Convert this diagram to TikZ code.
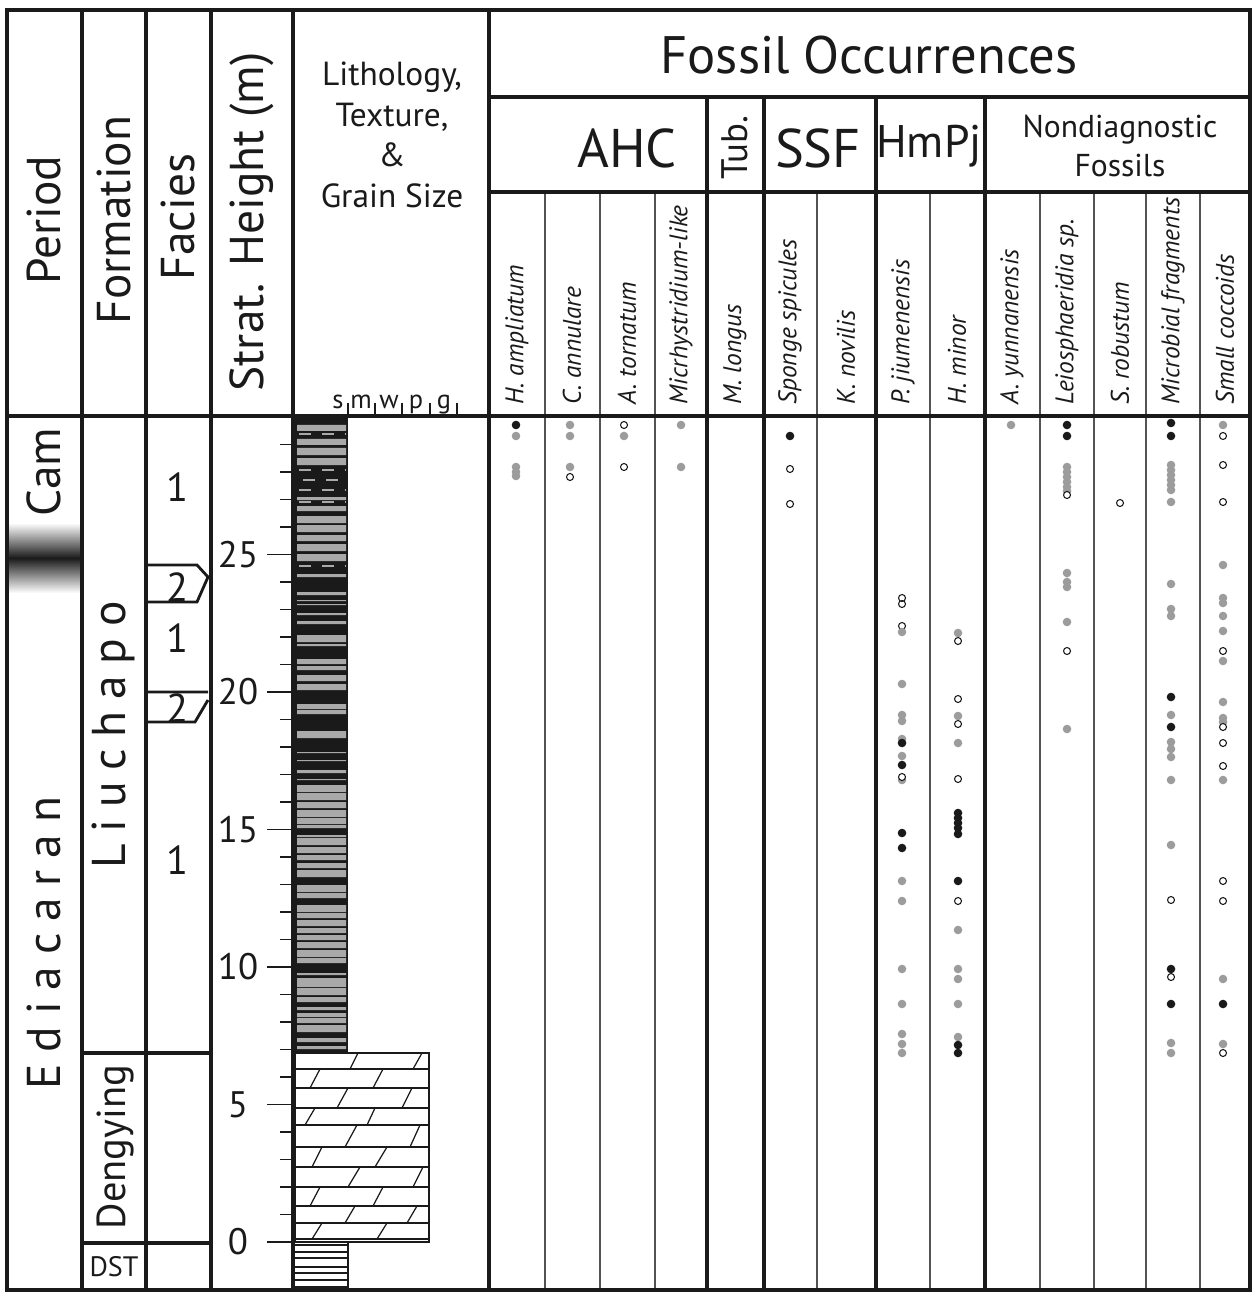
\documentclass[tikz,border=0pt]{standalone}
\usepackage{fontspec}
\setmainfont{PT Sans}
\newfontfamily\widefont[LetterSpace=25]{PT Sans}
\definecolor{inkblack}{HTML}{1A1A1A}
\definecolor{dotgrey}{HTML}{9C9C9C}
\definecolor{litgrey}{HTML}{A9A9A9}
\tikzset{ heavy/.style = { draw = inkblack
                         , line width = 2.8pt
                         },
          group/.style = { draw = inkblack
                         , line width = 2.2pt
                         },
          light/.style = { draw = inkblack!75
                         , line width = 1.1pt
                         },
          fine/.style  = { draw = inkblack
                         , line width = 0.7pt
                         },
          colhead/.style = { rotate = 90
                           , text = inkblack
                           , font = \fontsize{27}{32}\selectfont
                           },
          grouphead/.style = { text = inkblack
                             , font = \fontsize{31}{36}\selectfont
                             },
          species/.style = { rotate = 90
                           , anchor = west
                           , inner sep = 0pt
                           , text = inkblack
                           , font = \fontsize{14.5}{17}\selectfont\itshape
                           },
          ticklab/.style = { text = inkblack
                           , font = \fontsize{21}{24}\selectfont
                           },
          faciesno/.style = { text = inkblack
                            , font = \fontsize{23}{26}\selectfont
                            },
          grain/.style = { anchor = base
                         , inner sep = 0pt
                         , text = inkblack
                         , font = \fontsize{15}{17}\selectfont
                         },
          bdot/.style = { fill = inkblack },
          gdot/.style = { fill = dotgrey },
          odot/.style = { draw = inkblack
                        , fill = white
                        , line width = 0.6pt
                        }
        }

\begin{document}
\begin{tikzpicture}[x=0.02cm, y=-0.02cm]
    \useasboundingbox (0,0) rectangle (1254,1293);

    % period boundary shading
    \shade[top color=white, bottom color=inkblack] (9,523) rectangle (80,558);
    \shade[top color=inkblack, bottom color=white] (9,558) rectangle (80,593);

    % lithology: laminated interval
    \fill[inkblack] (293,416) rectangle (348,1052);
    \fill[litgrey] (297,425) rectangle (346,431) (297,439) rectangle (346,445)
        (297,448) rectangle (346,455) (297,458) rectangle (346,465)
        (297,497) rectangle (346,500) (297,506) rectangle (346,511)
        (297,516) rectangle (346,523) (297,525) rectangle (346,532)
        (297,535) rectangle (346,541) (297,544) rectangle (346,551)
        (297,554) rectangle (346,561) (297,574) rectangle (346,577)
        (297,592) rectangle (346,595) (297,600) rectangle (346,601)
        (297,604) rectangle (346,605) (297,613) rectangle (346,615)
        (297,621) rectangle (346,624) (297,635) rectangle (346,642)
        (297,644) rectangle (346,646) (297,659) rectangle (346,664)
        (297,666) rectangle (346,670) (297,675) rectangle (346,681)
        (297,684) rectangle (346,690) (297,704) rectangle (346,709)
        (297,710) rectangle (346,714) (297,731) rectangle (346,738)
        (297,752) rectangle (346,753) (297,760) rectangle (346,761)
        (297,770) rectangle (346,773) (297,779) rectangle (346,780)
        (297,785) rectangle (346,792) (297,793) rectangle (346,800)
        (297,802) rectangle (346,808) (297,810) rectangle (346,817)
        (297,818) rectangle (346,824) (297,825) rectangle (346,828)
        (297,835) rectangle (346,837) (297,838) rectangle (346,845)
        (297,847) rectangle (346,853) (297,855) rectangle (346,860)
        (297,863) rectangle (346,868) (297,870) rectangle (346,877)
        (297,885) rectangle (346,892) (297,893) rectangle (346,898)
        (297,905) rectangle (346,912) (297,913) rectangle (346,918)
        (297,920) rectangle (346,926) (297,928) rectangle (346,933)
        (297,935) rectangle (346,940) (297,942) rectangle (346,948)
        (297,950) rectangle (346,957) (297,958) rectangle (346,963)
        (297,973) rectangle (346,975) (297,978) rectangle (346,987)
        (297,988) rectangle (346,995) (297,997) rectangle (346,1002)
        (297,1007) rectangle (346,1010) (297,1013) rectangle (346,1017)
        (297,1018) rectangle (346,1023) (297,1025) rectangle (346,1032)
        (297,1038) rectangle (346,1042) (297,1046) rectangle (346,1049);
    \draw[litgrey, line width=0.6pt, dash pattern=on 7pt off 6pt]
        (299,434) -- (346,434) (299,470) -- (346,470) (303,480) -- (346,480)
        (299,490) -- (346,490) (299,502) -- (346,502) (299,566) -- (346,566);

    % lithology: dolostone
    \filldraw[fine, fill=white] (295,1053) rectangle (429,1242);
    \draw[fine] (295,1069) -- (429,1069) (295,1088) -- (429,1088)
        (295,1108) -- (429,1108) (295,1125) -- (429,1125)
        (295,1147) -- (429,1147) (295,1167) -- (429,1167)
        (295,1187) -- (429,1187) (295,1206) -- (429,1206)
        (295,1223) -- (429,1223) (295,1239) -- (429,1239);
    \draw[fine] (350,1069) -- (358,1053) (413,1069) -- (422,1053)
        (310,1088) -- (320,1069) (373,1088) -- (383,1069)
        (337,1108) -- (348,1088) (402,1108) -- (412,1088)
        (305,1125) -- (315,1108) (367,1125) -- (375,1108)
        (345,1147) -- (357,1125) (410,1147) -- (420,1125)
        (312,1167) -- (322,1147) (375,1167) -- (387,1147)
        (348,1187) -- (360,1167) (413,1187) -- (423,1167)
        (310,1206) -- (320,1187) (373,1206) -- (383,1187)
        (345,1223) -- (355,1206) (407,1223) -- (417,1206)
        (312,1239) -- (322,1223) (377,1239) -- (387,1223);

    % lithology: below datum
    \draw[fine] (295,1245) -- (348,1245) (295,1252) -- (348,1252)
        (295,1258) -- (348,1258) (295,1267) -- (348,1267)
        (295,1273) -- (348,1273) (295,1280) -- (348,1280)
        (295,1287) -- (348,1287) (348,1243) -- (348,1290);

    % fossil occurrences
    \fill[bdot] (516,425) circle (4.3);
    \fill[gdot] (516,436) circle (4.3) (516,467) circle (4.3) (516,472) circle (4.3) (516,476) circle (4.3);
    \fill[gdot] (570,425) circle (4.3) (570,436) circle (4.3) (570,467) circle (4.3);
    \filldraw[odot] (570,477) circle (3.5);
    \filldraw[odot] (624,425) circle (3.5) (624,467) circle (3.5);
    \fill[gdot] (624,436) circle (4.3);
    \fill[gdot] (681,425) circle (4.3) (681,467) circle (4.3);
    \fill[bdot] (790,436) circle (4.3);
    \filldraw[odot] (790,469) circle (3.5) (790,504) circle (3.5);
    % P. jiumenensis
    \filldraw[odot] (902,598) circle (3.5) (902,604) circle (3.5) (902,626) circle (3.5);
    \fill[gdot] (902,632) circle (4.3) (902,684) circle (4.3) (902,715) circle (4.3) (902,721) circle (4.3)
        (902,739) circle (4.3) (902,756) circle (4.3) (902,780) circle (4.3) (902,881) circle (4.3)
        (902,901) circle (4.3) (902,969) circle (4.3) (902,1004) circle (4.3) (902,1034) circle (4.3)
        (902,1044) circle (4.3) (902,1053) circle (4.3);
    \fill[bdot] (902,743) circle (4.3) (902,765) circle (4.3) (902,833) circle (4.3) (902,848) circle (4.3);
    \filldraw[odot] (902,777) circle (3.5);
    % H. minor
    \fill[gdot] (958,633) circle (4.3) (958,716) circle (4.3) (958,743) circle (4.3) (958,930) circle (4.3)
        (958,969) circle (4.3) (958,979) circle (4.3) (958,1004) circle (4.3) (958,1037) circle (4.3);
    \filldraw[odot] (958,641) circle (3.5) (958,699) circle (3.5) (958,724) circle (3.5)
        (958,779) circle (3.5) (958,901) circle (3.5);
    \fill[bdot] (958,813) circle (4.3) (958,818) circle (4.3) (958,823) circle (4.3) (958,828) circle (4.3)
        (958,834) circle (4.3) (958,881) circle (4.3) (958,1045) circle (4.3) (958,1053) circle (4.3);
    % nondiagnostic
    \fill[gdot] (1011,425) circle (4.3);
    \fill[bdot] (1067,425) circle (4.3) (1067,436) circle (4.3);
    \fill[gdot] (1067,467) circle (4.3) (1067,472) circle (4.3) (1067,477) circle (4.3) (1067,482) circle (4.3)
        (1067,487) circle (4.3) (1067,491) circle (4.3) (1067,573) circle (4.3) (1067,582) circle (4.3)
        (1067,587) circle (4.3) (1067,622) circle (4.3) (1067,729) circle (4.3);
    \filldraw[odot] (1067,495) circle (3.5) (1067,651) circle (3.5);
    \filldraw[odot] (1120,503) circle (3.5);
    \fill[gdot] (1171,465) circle (4.3) (1171,470) circle (4.3) (1171,475) circle (4.3) (1171,480) circle (4.3)
        (1171,485) circle (4.3) (1171,490) circle (4.3) (1171,502) circle (4.3) (1171,584) circle (4.3)
        (1171,609) circle (4.3) (1171,616) circle (4.3) (1171,715) circle (4.3) (1171,742) circle (4.3)
        (1171,749) circle (4.3) (1171,757) circle (4.3) (1171,780) circle (4.3) (1171,845) circle (4.3)
        (1171,1043) circle (4.3) (1171,1053) circle (4.3);
    \fill[bdot] (1171,423) circle (4.3) (1171,436) circle (4.3) (1171,697) circle (4.3) (1171,727) circle (4.3)
        (1171,969) circle (4.3) (1171,1004) circle (4.3);
    \filldraw[odot] (1171,900) circle (3.5) (1171,977) circle (3.5);
    \fill[gdot] (1223,425) circle (4.3) (1223,565) circle (4.3) (1223,598) circle (4.3) (1223,603) circle (4.3)
        (1223,616) circle (4.3) (1223,631) circle (4.3) (1223,661) circle (4.3) (1223,702) circle (4.3)
        (1223,718) circle (4.3) (1223,722) circle (4.3) (1223,780) circle (4.3) (1223,979) circle (4.3)
        (1223,1044) circle (4.3);
    \filldraw[odot] (1223,436) circle (3.5) (1223,465) circle (3.5) (1223,502) circle (3.5)
        (1223,651) circle (3.5) (1223,727) circle (3.5) (1223,743) circle (3.5) (1223,766) circle (3.5)
        (1223,881) circle (3.5) (1223,901) circle (3.5) (1223,1053) circle (3.5);
    \fill[bdot] (1223,1004) circle (4.3);

    % table rules
    \draw[light] (545,192) -- (545,1290) (600,192) -- (600,1290) (655,192) -- (655,1290)
        (817,192) -- (817,1290) (930,192) -- (930,1290) (1040,192) -- (1040,1290)
        (1094,192) -- (1094,1290) (1146,192) -- (1146,1290) (1200,192) -- (1200,1290);
    \draw[group] (707,97) -- (707,1290) (764,97) -- (764,1290)
        (876,97) -- (876,1290) (985,97) -- (985,1290);
    \draw[heavy] (82,10) -- (82,1290) (146,10) -- (146,1290) (211,10) -- (211,1290)
        (293,10) -- (293,1290) (489,10) -- (489,1290);
    \draw[heavy] (7,416) -- (1250,416) (489,97) -- (1250,97) (489,192) -- (1250,192);
    \draw[heavy] (82,1053) -- (211,1053) (82,1243) -- (211,1243);
    \draw[heavy] (7,10) rectangle (1250,1290);

    % facies wedges
    \draw[inkblack, line width=1.6pt] (146,565) -- (197,565) -- (208,577) -- (197,602) -- (146,602);
    \draw[inkblack, line width=1.6pt] (146,692) -- (208,692) (208,700) -- (195,722) -- (146,722);

    % height scale
    \draw[inkblack, line width=0.9pt] (267,1242) -- (293,1242) (267,1104.5) -- (293,1104.5)
        (267,967) -- (293,967) (267,829.5) -- (293,829.5)
        (267,692) -- (293,692) (267,554.5) -- (293,554.5);
    \draw[inkblack, line width=0.9pt] (280,1214.5) -- (293,1214.5) (280,1187) -- (293,1187)
        (280,1159.5) -- (293,1159.5) (280,1132) -- (293,1132) (280,1077) -- (293,1077)
        (280,1049.5) -- (293,1049.5) (280,1022) -- (293,1022) (280,994.5) -- (293,994.5)
        (280,939.5) -- (293,939.5) (280,912) -- (293,912) (280,884.5) -- (293,884.5)
        (280,857) -- (293,857) (280,802) -- (293,802) (280,774.5) -- (293,774.5)
        (280,747) -- (293,747) (280,719.5) -- (293,719.5) (280,664.5) -- (293,664.5)
        (280,637) -- (293,637) (280,609.5) -- (293,609.5) (280,582) -- (293,582)
        (280,527) -- (293,527) (280,499.5) -- (293,499.5) (280,472) -- (293,472)
        (280,444.5) -- (293,444.5);
    \node[ticklab] (h0)  at (238,1242)   {0};
    \node[ticklab] (h5)  at (238,1104.5) {5};
    \node[ticklab] (h10) at (238,967)    {10};
    \node[ticklab] (h15) at (238,829.5)  {15};
    \node[ticklab] (h20) at (238,692)    {20};
    \node[ticklab] (h25) at (238,554.5)  {25};

    % grain size axis
    \draw[inkblack, line width=0.7pt] (348,403) -- (348,415) (375,403) -- (375,415)
        (402,403) -- (402,415) (430,403) -- (430,415) (457,403) -- (457,415);
    \node[grain] (gs) at (338,409) {s};
    \node[grain] (gm) at (361,409) {m};
    \node[grain] (gw) at (389,409) {w};
    \node[grain] (gp) at (416,409) {p};
    \node[grain] (gg) at (444,409) {g};

    % column headings
    \node[colhead] (period)    at (44,220)  {Period};
    \node[colhead] (formation) at (114,220) {Formation};
    \node[colhead] (facies)    at (178,217) {Facies};
    \node[colhead] (height)    at (252,222) {Strat. Height (m)};
    \node[text=inkblack, align=center, font=\fontsize{19}{23}\selectfont] (litho) at (392,135)
        {Lithology,\\Texture,\\\&\\Grain Size};
    \node[grouphead, font=\fontsize{30}{36}\selectfont] (fossil) at (869,55) {Fossil Occurrences};
    \node[grouphead] (ahc)  at (627,148) {AHC};
    \node[grouphead, rotate=90, font=\fontsize{21}{24}\selectfont] (tub) at (735,148) {Tub.};
    \node[grouphead] (ssf)  at (818,148) {SSF};
    \node[grouphead, font=\fontsize{26}{30}\selectfont] (hmpj) at (929,146) {HmPj};
    \node[text=inkblack, align=center, font=\fontsize{18}{22}\selectfont] (nondiag) at (1120,146)
        {Nondiagnostic\\Fossils};

    % taxa
    \node[species] (sp1)  at (517,405)  {H. ampliatum};
    \node[species] (sp2)  at (572,405)  {C. annulare};
    \node[species] (sp3)  at (627,405)  {A. tornatum};
    \node[species] (sp4)  at (681,405)  {Micrhystridium-like};
    \node[species] (sp5)  at (735,405)  {M. longus};
    \node[species] (sp6)  at (790,405)  {Sponge spicules};
    \node[species] (sp7)  at (846,405)  {K. novilis};
    \node[species] (sp8)  at (903,405)  {P. jiumenensis};
    \node[species] (sp9)  at (957,405)  {H. minor};
    \node[species] (sp10) at (1012,405) {A. yunnanensis};
    \node[species] (sp11) at (1067,405) {Leiosphaeridia sp.};
    \node[species] (sp12) at (1120,405) {S. robustum};
    \node[species] (sp13) at (1173,405) {Microbial fragments};
    \node[species] (sp14) at (1225,405) {Small coccoids};

    % units
    \node[colhead] (cam) at (44,472) {Cam};
    \node[colhead, font=\widefont\fontsize{27}{32}\selectfont] (ediacaran) at (44,943) {Ediacaran};
    \node[colhead, font=\widefont\fontsize{27}{32}\selectfont] (liuchapo) at (113,735) {Liuchapo};
    \node[colhead, font=\fontsize{23}{27}\selectfont] (dengying) at (115,1147) {Dengying};
    \node[text=inkblack, font=\fontsize{16}{19}\selectfont] (dst) at (114,1267) {DST};

    % facies
    \node[faciesno] (fa) at (178,487) {1};
    \node[faciesno] (fb) at (178,587) {2};
    \node[faciesno] (fc) at (178,638) {1};
    \node[faciesno] (fd) at (178,708) {2};
    \node[faciesno] (fe) at (178,860) {1};
\end{tikzpicture}
\end{document}
